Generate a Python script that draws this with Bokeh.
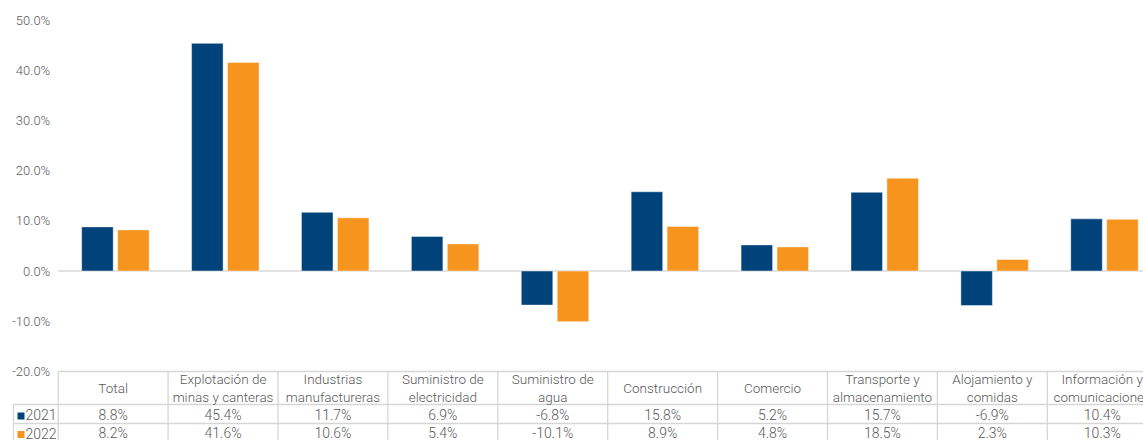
from bokeh.plotting import figure
from bokeh.models import ColumnDataSource, Range1d
from bokeh.core.properties import value
from bokeh.transform import dodge
from bokeh.embed import file_html
from bokeh.resources import INLINE

# ---- data ----
categories = ["Total", "Explotación de\nminas y canteras", "Industrias\nmanufactureras",
              "Suministro de\nelectricidad", "Suministro de\nagua", "Construcción",
              "Comercio", "Transporte y\nalmacenamiento", "Alojamiento y\ncomidas",
              "Información y\ncomunicaciones"]
series_names = ["2021", "2022"]
values_2021 = [8.8, 45.4, 11.7, 6.9, -6.8, 15.8, 5.2, 15.7, -6.9, 10.4]
values_2022 = [8.2, 41.6, 10.6, 5.4, -10.1, 8.9, 4.8, 18.5, 2.3, 10.3]
y_ticks = [-20, -10, 0, 10, 20, 30, 40, 50]
colors = ["#00427A", "#F7941D"]

FONT = value("Roboto Light")
TXT = "#595959"
GRID = "#d6d6d6"

W, H = 1143, 440

# layout helpers: picture pixel -> data coordinate
CAT_W = 109.9
X0 = 57.7
Y0 = 270.5
PX_PER_PCT = 5.014
def px_x(px):
    return (px - X0) / CAT_W
def px_y(px):
    return (Y0 - px) / PX_PER_PCT

p = figure(width=W, height=H, output_backend="svg", toolbar_location=None,
           x_range=Range1d(px_x(0), px_x(W)), y_range=Range1d(px_y(H), px_y(0)),
           x_axis_location=None, y_axis_location=None, min_border=0,
           outline_line_color=None, background_fill_color="white")
p.grid.visible = False

n = len(categories)
idx = list(range(n))
src = ColumnDataSource(dict(idx=idx, v21=values_2021, v22=values_2022,
                            l21=[f"{v:.1f}%" for v in values_2021],
                            l22=[f"{v:.1f}%" for v in values_2022],
                            cat=categories, mid=[i + 0.5 for i in idx]))

# zero line
p.segment(x0=0, x1=px_x(W), y0=0, y1=0, line_color="#d9d9d9", line_width=1.6)

# bars
p.vbar(x=dodge("idx", 0.357, range=p.x_range), top="v21", bottom=0, width=0.287,
       source=src, fill_color=colors[0], line_color="white", line_alpha=0.45, line_width=1)
p.vbar(x=dodge("idx", 0.684, range=p.x_range), top="v22", bottom=0, width=0.287,
       source=src, fill_color=colors[1], line_color="white", line_alpha=0.45, line_width=1)

# y tick labels
p.text(x=[0] * len(y_ticks), y=y_ticks, text=[f"{t:.1f}%" for t in y_ticks],
       x_offset=-8, text_align="right", text_baseline="middle",
       text_font=FONT, text_font_size="13px", text_color=TXT)

# ---- table ----
top_y = px_y(371)
row1 = px_y(404)
row2 = px_y(423)
bot = px_y(445)
leg_x = px_x(13)
right = px_x(1160)

p.segment(x0=[0, leg_x, leg_x], x1=[right] * 3, y0=[top_y, row1, row2], y1=[top_y, row1, row2],
          line_color=GRID, line_width=1.3)
vx = list(range(n + 1))
p.segment(x0=vx, x1=vx, y0=[top_y] * len(vx), y1=[bot] * len(vx), line_color=GRID, line_width=1.3)
p.segment(x0=[leg_x], x1=[leg_x], y0=[row1], y1=[bot], line_color=GRID, line_width=1.3)

p.text(x="mid", y=px_y(387.5), text="cat", source=src, text_align="center",
       text_baseline="middle", text_font=FONT, text_font_size="13.5px", text_color=TXT,
       text_line_height=1.12)
p.text(x="mid", y=px_y(414), text="l21", source=src, text_align="center",
       text_baseline="middle", text_font=FONT, text_font_size="14px", text_color=TXT)
p.text(x="mid", y=px_y(432.5), text="l22", source=src, text_align="center",
       text_baseline="middle", text_font=FONT, text_font_size="14px", text_color=TXT)

# legend keys in table
p.scatter(x=[px_x(20.5)] * 2, y=[px_y(415.5), px_y(434)], marker="square", size=7,
          fill_color=colors, line_color=None)
p.text(x=[px_x(25)] * 2, y=[px_y(414), px_y(432.5)], text=series_names,
       text_align="left", text_baseline="middle", text_font=FONT,
       text_font_size="14px", text_color=TXT)

open("out.html", "w").write(file_html(p, INLINE))
